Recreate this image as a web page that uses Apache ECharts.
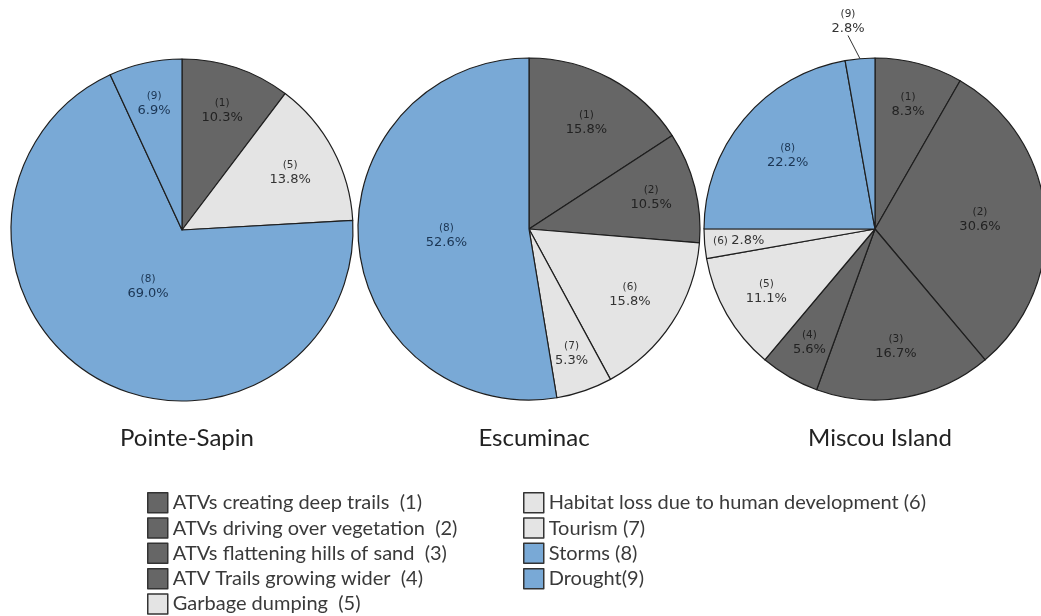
<!DOCTYPE html>
<html>
<head>
<meta charset="utf-8">
<script src="https://cdn.jsdelivr.net/npm/echarts@6/dist/echarts.min.js"></script>
<style>
  html, body { margin: 0; padding: 0; background: #fff; }
  #chart { width: 1041px; height: 616px; }
</style>
</head>
<body>
<div id="chart"></div>
<script>
// categories (legend entries), in code order 1..9
const categoryNames = [
  'ATVs creating deep trails  (1)',
  'ATVs driving over vegetation  (2)',
  'ATVs flattening hills of sand  (3)',
  'ATV Trails growing wider  (4)',
  'Garbage dumping  (5)',
  'Habitat loss due to human development (6)',
  'Tourism (7)',
  'Storms (8)',
  'Drought(9)'
];

const siteNames = ['Pointe-Sapin', 'Escuminac', 'Miscou Island'];

// percentages per site, with the category code of each slice
const pointeSapinCodes = [1, 5, 8, 9];
const pointeSapinPct = [10.3, 13.8, 69.0, 6.9];

const escuminacCodes = [1, 2, 6, 7, 8];
const escuminacPct = [15.8, 10.5, 15.8, 5.3, 52.6];

const miscouCodes = [1, 2, 3, 4, 5, 6, 8, 9];
const miscouPct = [8.3, 30.6, 16.7, 5.6, 11.1, 2.8, 22.2, 2.8];

// styling
const DARK = '#666666', LIGHT = '#e4e4e4', BLUE = '#79a9d6';
const codeColor = { 1: DARK, 2: DARK, 3: DARK, 4: DARK, 5: LIGHT, 6: LIGHT, 7: LIGHT, 8: BLUE, 9: BLUE };
const labelColor = { 1: '#222', 2: '#222', 3: '#222', 4: '#222', 5: '#333', 6: '#333', 7: '#333', 8: '#1b3553', 9: '#1b3553' };
const pieCenters = [[182, 230], [529, 229], [875, 229]];
const pieRadius = 171;
const FONT = 'Lato, "Open Sans", sans-serif';

function labelLayoutFor(site, codes, values) {
  const [cx, cy] = pieCenters[site];
  const total = values.reduce((a, b) => a + b, 0);
  return function (params) {
    const i = params.dataIndex;
    if (site === 2 && codes[i] === 9) {
      // small slice: label above the pie, joined by a short leader line
      return { x: cx - 27, y: cy - pieRadius - 36, align: 'center', verticalAlign: 'middle' };
    }
    let cum = 0;
    for (let k = 0; k < i; k++) cum += values[k];
    const share = values[i] / total;
    const mid = (cum + values[i] / 2) / total * Math.PI * 2;
    // big slices keep label near centre, small ones further out
    let f = 0.80 - 0.6 * share;
    if (site === 2 && codes[i] === 6) f = 0.80;
    const r = f * pieRadius;
    return { x: cx + Math.sin(mid) * r, y: cy - Math.cos(mid) * r };
  };
}

function pieSeries(site, codes, values) {
  return {
    type: 'pie',
    name: siteNames[site],
    center: pieCenters[site],
    radius: pieRadius,
    startAngle: 90,
    clockwise: true,
    avoidLabelOverlap: false,
    animation: false,
    emphasis: { disabled: true },
    itemStyle: { borderColor: '#1e1e1e', borderWidth: 1.2 },
    labelLayout: labelLayoutFor(site, codes, values),
    data: codes.map((c, i) => {
      const outside = site === 2 && c === 9;
      const oneLine = site === 2 && c === 6;
      return {
        name: categoryNames[c - 1],
        value: values[i],
        itemStyle: { color: codeColor[c] },
        label: {
          show: true,
          position: outside ? 'outside' : 'inside',
          formatter: oneLine ? '{c|(' + c + ')} {p|' + values[i].toFixed(1) + '%}'
                             : '{c|(' + c + ')}\n{p|' + values[i].toFixed(1) + '%}',
          align: 'center',
          rich: {
            c: { fontFamily: 'DejaVu Sans', fontSize: 10.5, color: outside ? '#333' : labelColor[c], lineHeight: 14, align: 'center' },
            p: { fontFamily: 'DejaVu Sans', fontSize: 13, color: outside ? '#333' : labelColor[c], lineHeight: 15, align: 'center' }
          }
        },
        labelLine: outside ? { show: true, length: 10, length2: 0, lineStyle: { color: '#333', width: 1 } } : { show: false }
      };
    })
  };
}

const legendCommon = {
  orient: 'vertical',
  icon: 'rect',
  itemWidth: 20,
  itemHeight: 20,
  itemGap: 3.8,
  padding: 0,
  height: 160,
  selectedMode: false,
  itemStyle: { borderColor: '#333', borderWidth: 1.5 },
  textStyle: { fontFamily: FONT, fontSize: 20, lineHeight: 18, color: '#3a3a3a' }
};

const option = {
  backgroundColor: '#fff',
  title: siteNames.map((s, i) => ({
    text: s,
    left: pieCenters[i][0],
    textAlign: 'center',
    top: 421,
    textStyle: { fontFamily: FONT, fontSize: 24, fontWeight: 'normal', color: '#222' }
  })),
  legend: [
    Object.assign({ left: 147, top: 492, data: categoryNames.slice(0, 5) }, legendCommon),
    Object.assign({ left: 523, top: 492, data: categoryNames.slice(5) }, legendCommon)
  ],
  series: [
    pieSeries(0, pointeSapinCodes, pointeSapinPct),
    pieSeries(1, escuminacCodes, escuminacPct),
    pieSeries(2, miscouCodes, miscouPct)
  ]
};

const chart = echarts.init(document.getElementById('chart'), null, { renderer: 'canvas' });
chart.setOption(option);
</script>
</body>
</html>
